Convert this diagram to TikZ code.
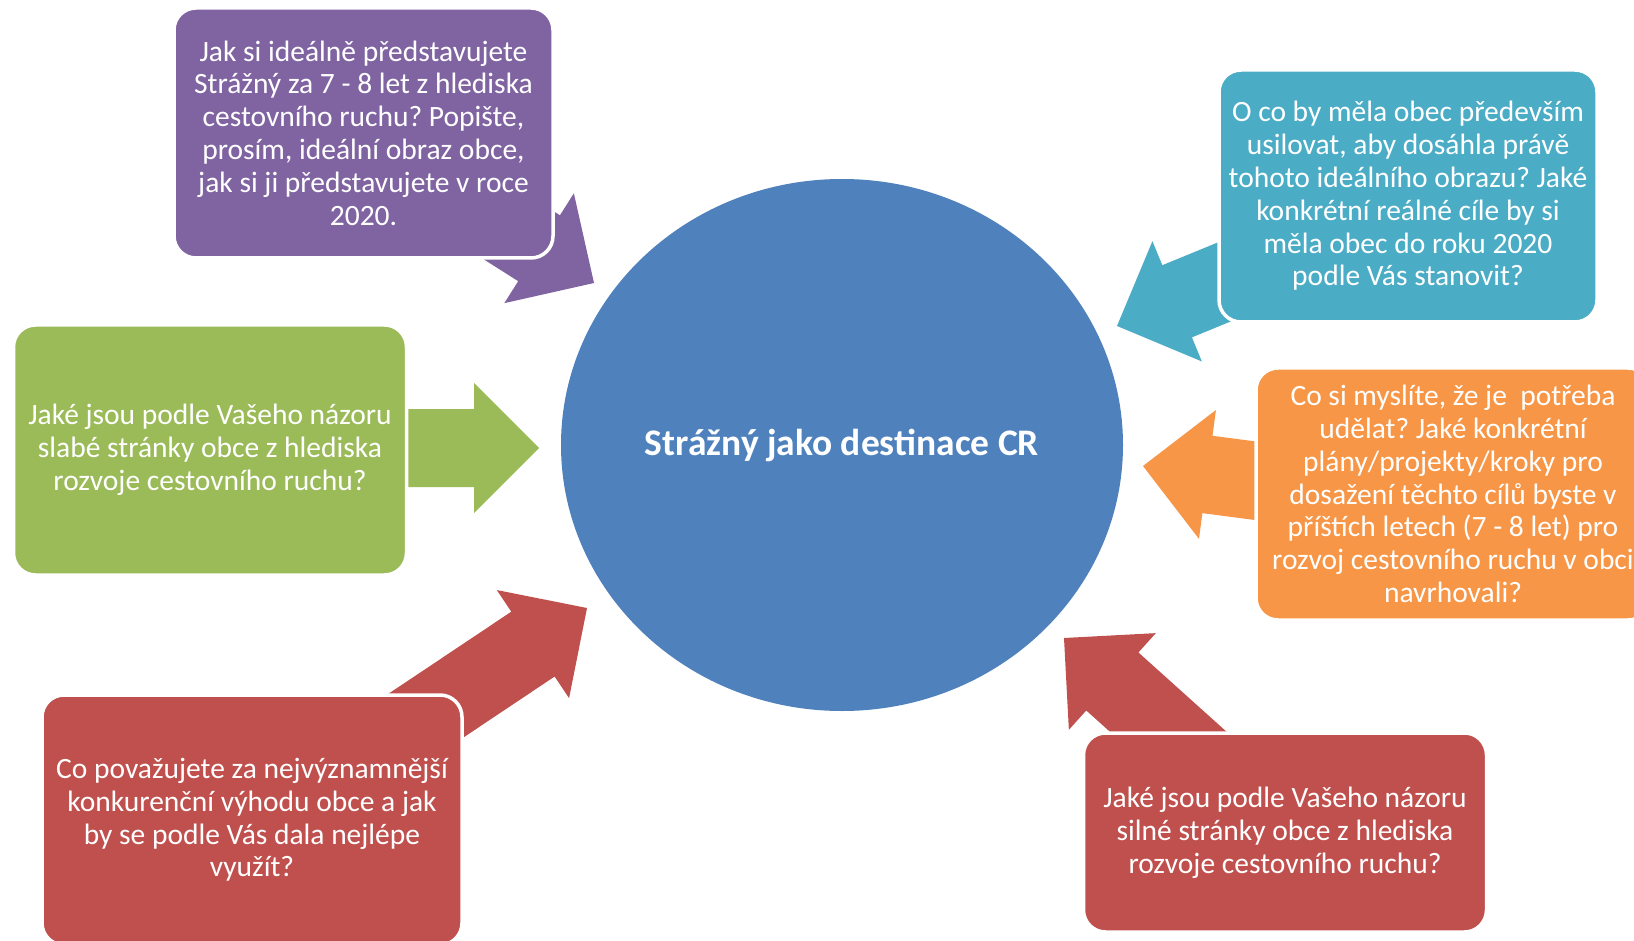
\documentclass[tikz,border=0pt]{standalone}
\usepackage{fontspec}
\setmainfont{Carlito}
\frenchspacing
\usetikzlibrary{calc,shapes.geometric}
\definecolor{cpurple}{HTML}{8064A2}
\definecolor{cteal}{HTML}{4BACC6}
\definecolor{corange}{HTML}{F79646}
\definecolor{cgreen}{HTML}{9BBB59}
\definecolor{cred}{HTML}{C0504D}
\definecolor{cblue}{HTML}{4F81BD}
\newcommand\blockarr[3]{%
  \path ($(#2)!65pt!(#1)$) coordinate (hb);
  \fill[#3] ($(#1)!39pt!90:(#2)$) -- ($(hb)!39pt!90:(#2)$) -- ($(hb)!65pt!90:(#2)$) -- (#2)
    -- ($(hb)!65pt!-90:(#2)$) -- ($(hb)!39pt!-90:(#2)$) -- ($(#1)!39pt!-90:(#2)$) -- cycle;
}
\tikzset{
  qbox/.style={draw=white, line width=3.5pt, rounded corners=22pt, text=white, align=center,
    font=\fontsize{29.5}{32.8}\selectfont, inner sep=0pt},
}
\begin{document}
\begin{tikzpicture}[x=1pt,y=-1pt]
\fill[white] (0,0) rectangle (1634,941);
\clip (0,0) rectangle (1634,941);
% centre
\node[ellipse, fill=cblue, minimum width=562, minimum height=532, inner sep=0pt, text=white,
  font=\bfseries\fontsize{37.5}{44}\selectfont] (c) at (842,445) {Strážný jako destinace CR};
% arrows
\coordinate (pTail) at (425,176);   \coordinate (pTip) at (594,283);
\coordinate (tTail) at (1302,250);  \coordinate (tTip) at (1117,326);
\coordinate (oTail) at (1341,492);  \coordinate (oTip) at (1143,466);
\coordinate (gTail) at (339,448);   \coordinate (gTip) at (539,448);
\coordinate (lTail) at (379,747);   \coordinate (lTip) at (587,608);
\coordinate (rTail) at (1213,772);  \coordinate (rTip) at (1064,638);
\blockarr{pTail}{pTip}{cpurple}
\blockarr{tTail}{tTip}{cteal}
\blockarr{oTail}{oTip}{corange}
\blockarr{gTail}{gTip}{cgreen}
\blockarr{lTail}{lTip}{cred}
\blockarr{rTail}{rTip}{cred}
% boxes
\node[qbox, fill=cpurple, minimum width=379, minimum height=250] (p) at (363.5,133)
 {Jak si ideálně představujete\\Strážný za 7 - 8 let z hlediska\\cestovního ruchu? Popište,\\prosím, ideální obraz obce,\\jak si ji představujete v roce\\2020.};
\node[qbox, fill=cteal, minimum width=378, minimum height=252] (t) at (1408,196)
 {O co by měla obec především\\usilovat, aby dosáhla právě\\tohoto ideálního obrazu? Jaké\\konkrétní reálné cíle by si\\měla obec do roku 2020\\podle Vás stanovit?};
\node[qbox, fill=corange, minimum width=394, minimum height=252] (o) at (1453,494)
 {Co si myslíte, že je\ \ potřeba\\udělat? Jaké konkrétní\\plány/projekty/kroky pro\\dosažení těchto cílů byste v\\příštích letech (7 - 8 let) pro\\rozvoj cestovního ruchu v obci\\navrhovali?};
\node[qbox, fill=cgreen, minimum width=393, minimum height=250] (g) at (210,450)
 {Jaké jsou podle Vašeho názoru\\slabé stránky obce z hlediska\\rozvoje cestovního ruchu?};
\node[qbox, fill=cred, minimum width=420, minimum height=250] (l) at (252,820)
 {Co považujete za nejvýznamnější\\konkurenční výhodu obce a jak\\by se podle Vás dala nejlépe\\využít?};
\node[qbox, fill=cred, minimum width=403, minimum height=199] (r) at (1285,832.5)
 {Jaké jsou podle Vašeho názoru\\silné stránky obce z hlediska\\rozvoje cestovního ruchu?};
\end{tikzpicture}
\end{document}
